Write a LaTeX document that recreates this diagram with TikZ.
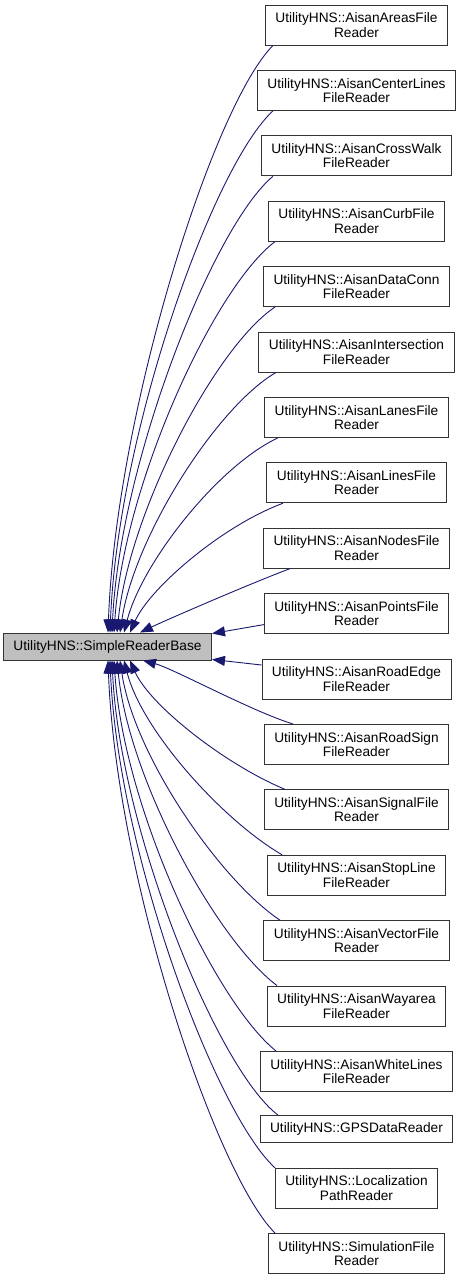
\documentclass[tikz,border=0pt]{standalone}
\usepackage{fontspec}
\setmainfont{Liberation Sans}
\usetikzlibrary{arrows.meta,calc}
\definecolor{edgecol}{HTML}{191970}
\definecolor{basefill}{HTML}{BFBFBF}
\begin{document}
\begin{tikzpicture}[x=1pt,y=-1pt,
  cls/.style={draw=black!80, line width=0.9pt, fill=white, align=center,
    inner xsep=10pt, inner ysep=0pt, minimum height=40pt,
    font=\fontsize{13.7}{14.5}\selectfont},
  oneline/.style={cls, minimum height=27pt},
  basecls/.style={oneline, fill=basefill},
  inh/.style={draw=edgecol, line width=0.9pt, {Triangle[length=13pt,width=10pt]}-}
]
\useasboundingbox (0,0) rectangle (460,1280);

\node[basecls] (base) at (107.5,646.5) {UtilityHNS::SimpleReaderBase};

\node[cls] (c1) at (356.5,25) {UtilityHNS::AisanAreasFile\\Reader};
\node[cls] (c2) at (356.5,90.4) {UtilityHNS::AisanCenterLines\\FileReader};
\node[cls] (c3) at (356.5,155.8) {UtilityHNS::AisanCrossWalk\\FileReader};
\node[cls] (c4) at (356.5,221.2) {UtilityHNS::AisanCurbFile\\Reader};
\node[cls] (c5) at (356.5,286.6) {UtilityHNS::AisanDataConn\\FileReader};
\node[cls] (c6) at (356.5,352) {UtilityHNS::AisanIntersection\\FileReader};
\node[cls] (c7) at (356.5,417.4) {UtilityHNS::AisanLanesFile\\Reader};
\node[cls] (c8) at (356.5,482.8) {UtilityHNS::AisanLinesFile\\Reader};
\node[cls] (c9) at (356.5,548.2) {UtilityHNS::AisanNodesFile\\Reader};
\node[cls] (c10) at (356.5,613.6) {UtilityHNS::AisanPointsFile\\Reader};
\node[cls] (c11) at (356.5,679) {UtilityHNS::AisanRoadEdge\\FileReader};
\node[cls] (c12) at (356.5,744.4) {UtilityHNS::AisanRoadSign\\FileReader};
\node[cls] (c13) at (356.5,809.8) {UtilityHNS::AisanSignalFile\\Reader};
\node[cls] (c14) at (356.5,875.2) {UtilityHNS::AisanStopLine\\FileReader};
\node[cls] (c15) at (356.5,940.6) {UtilityHNS::AisanVectorFile\\Reader};
\node[cls] (c16) at (356.5,1006) {UtilityHNS::AisanWayarea\\FileReader};
\node[cls] (c17) at (356.5,1071.4) {UtilityHNS::AisanWhiteLines\\FileReader};
\node[oneline] (c18) at (356.5,1129) {UtilityHNS::GPSDataReader};
\node[cls] (c19) at (356.5,1188.3) {UtilityHNS::Localization\\PathReader};
\node[cls] (c20) at (356.5,1253.5) {UtilityHNS::SimulationFile\\Reader};

% upper edges
\draw[inh] ($(base.north)+(0.5,0)$) .. controls +(8,-220) and +(-60,60) .. ($(c1.south)+(-83.5,0)$);
\draw[inh] ($(base.north)+(2.5,0)$) .. controls +(8,-200) and +(-60,55) .. ($(c2.south)+(-83.5,0)$);
\draw[inh] ($(base.north)+(4.5,0)$) .. controls +(8,-170) and +(-60,50) .. ($(c3.south)+(-83.5,0)$);
\draw[inh] ($(base.north)+(6.5,0)$) .. controls +(10,-150) and +(-60,45) .. ($(c4.south)+(-81.5,0)$);
\draw[inh] ($(base.north)+(9.5,0)$) .. controls +(12,-120) and +(-60,40) .. ($(c5.south)+(-81.5,0)$);
\draw[inh] ($(base.north)+(12.5,0)$) .. controls +(14,-95) and +(-60,35) .. ($(c6.south)+(-80.5,0)$);
\draw[inh] ($(base.north)+(16.5,0)$) .. controls +(18,-70) and +(-60,28) .. ($(c7.south)+(-78.5,0)$);
\draw[inh] ($(base.north)+(22.5,0)$) .. controls +(20,-45) and +(-60,22) .. ($(c8.south)+(-73.5,0)$);
\draw[inh] ($(base.north)+(32.5,0)$) .. controls +(25,-12) and +(-40,15) .. ($(c9.south)+(-66.5,0)$);
% side edges
\draw[inh] ($(base.north east)+(0,1)$) -- ($(c10.west)+(0,11)$);
\draw[inh] ($(base.south east)+(0,-1)$) -- ($(c11.west)+(0,-14)$);
% lower edges
\draw[inh] ($(base.south)+(35.5,0)$) .. controls +(30,8) and +(-40,-12) .. ($(c12.north)+(-63.5,0)$);
\draw[inh] ($(base.south)+(22.5,0)$) .. controls +(20,45) and +(-60,-25) .. ($(c13.north)+(-71.5,0)$);
\draw[inh] ($(base.south)+(16.5,0)$) .. controls +(18,70) and +(-60,-35) .. ($(c14.north)+(-74.5,0)$);
\draw[inh] ($(base.south)+(12.5,0)$) .. controls +(14,95) and +(-60,-40) .. ($(c15.north)+(-76.5,0)$);
\draw[inh] ($(base.south)+(9.5,0)$) .. controls +(12,120) and +(-60,-45) .. ($(c16.north)+(-79.5,0)$);
\draw[inh] ($(base.south)+(6.5,0)$) .. controls +(10,150) and +(-60,-48) .. ($(c17.north)+(-80.5,0)$);
\draw[inh] ($(base.south)+(4.5,0)$) .. controls +(8,170) and +(-60,-45) .. ($(c18.north)+(-78.5,0)$);
\draw[inh] ($(base.south)+(2.5,0)$) .. controls +(8,190) and +(-60,-55) .. ($(c19.north)+(-81.5,0)$);
\draw[inh] ($(base.south)+(0.5,0)$) .. controls +(8,215) and +(-60,-60) .. ($(c20.north)+(-81.5,0)$);
\end{tikzpicture}
\end{document}
